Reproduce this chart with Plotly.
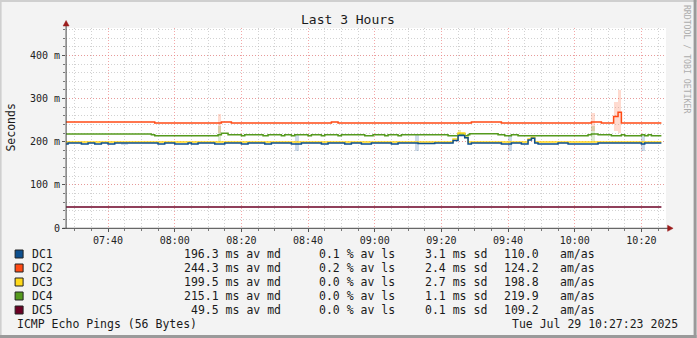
import plotly.graph_objects as go
import pandas as pd

DAY = "2025-07-29 "
T_START = "07:27:23"
T_END = "10:27:23"
DATA_END = "10:26"

# ---- step series: change-point times and values (ms) ----
dc1_t = ["07:27:23", "07:28", "07:32", "07:34", "07:36", "07:38", "07:40", "07:42", "07:55", "07:57",
         "08:00", "08:04", "08:05", "08:07", "08:12", "08:15", "08:20", "08:22", "08:27", "08:29",
         "08:35", "08:38", "08:44", "08:46", "08:51", "08:53", "08:56", "08:59", "09:05", "09:07",
         "09:13", "09:18", "09:23:30", "09:25", "09:27", "09:28", "09:29", "09:38", "09:41", "09:44",
         "09:46", "09:47", "09:48", "09:49", "09:55", "09:58", "10:07", "10:20", "10:21"]
dc1_v = [194.7, 197.0, 194.7, 197.0, 194.7, 197.0, 194.7, 197.0, 194.7, 197.0,
         194.7, 197.0, 194.7, 197.0, 194.7, 197.0, 194.7, 197.0, 194.7, 197.0,
         194.7, 197.0, 194.7, 197.0, 194.7, 197.0, 194.7, 197.0, 194.7, 197.0,
         196.0, 197.0, 203.0, 214.6, 209.0, 194.7, 197.0, 194.7, 197.0, 194.7,
         204.0, 208.0, 197.0, 194.7, 197.0, 194.7, 197.0, 194.7, 197.0]

dc2_t = ["07:27:23", "07:54", "08:14", "08:17", "08:47", "08:49", "09:29", "09:38", "10:05", "10:08",
         "10:11:40", "10:13", "10:14"]
dc2_v = [245.7, 243.3, 245.7, 243.3, 245.7, 243.3, 245.7, 243.3, 245.7, 243.3,
         258.6, 268.4, 243.3]

dc3_t = ["07:27:23", "09:23:30", "09:25", "09:27", "09:28", "09:46", "09:47", "09:48"]
dc3_v = [199.3, 206.3, 220.2, 210.0, 199.3, 206.0, 210.0, 199.3]

dc4_t = ["07:27:23", "07:53", "07:54", "08:13", "08:14", "08:16", "08:20", "08:21", "08:26:30", "08:28",
         "08:32", "08:33", "08:35", "08:36", "08:40", "08:41", "08:44", "08:45", "08:49", "08:50",
         "08:57", "08:59:30", "09:03", "09:04", "09:07", "09:08", "09:22", "09:25", "09:27", "09:28",
         "09:28:30", "09:37", "09:39", "09:41", "09:43", "10:04", "10:05", "10:07", "10:11", "10:14",
         "10:15", "10:20", "10:21", "10:22", "10:23"]
dc4_v = [217.8, 216.2, 213.9, 216.2, 219.3, 216.2, 213.9, 216.2, 213.9, 216.2,
         213.9, 216.2, 213.9, 216.2, 213.9, 216.2, 213.9, 216.2, 213.9, 216.2,
         213.9, 216.2, 213.9, 216.2, 213.9, 216.2, 213.9, 217.8, 213.9, 216.2,
         218.3, 216.2, 213.9, 216.2, 213.9, 216.2, 217.8, 216.2, 213.9, 216.2,
         213.9, 216.2, 213.9, 216.2, 213.9]

dc5_t = ["07:27:23"]
dc5_v = [48.7]

# ---- spread (sd) bands: start, end, low, high ----
dc1_band_start = ["07:44", "08:36", "09:12", "09:13", "09:20", "09:40", "10:20"]
dc1_band_end = ["07:46", "08:37:12", "09:13:12", "09:18", "09:23", "09:41:12", "10:21"]
dc1_band_lo = [193.0, 177.5, 177.5, 194.0, 194.0, 177.5, 177.5]
dc1_band_hi = [197.5, 216.0, 216.0, 197.5, 197.5, 216.0, 216.0]

dc2_band_start = ["08:13", "10:05", "10:11:40", "10:13"]
dc2_band_end = ["08:14", "10:06", "10:13", "10:14"]
dc2_band_lo = [221.0, 225.5, 225.5, 220.0]
dc2_band_hi = [265.0, 266.5, 292.0, 319.0]

dc3_band_start = ["09:25", "09:47"]
dc3_band_end = ["09:26", "09:48"]
dc3_band_lo = [218.0, 209.0]
dc3_band_hi = [226.0, 216.0]

dc4_band_start = ["08:13", "10:05"]
dc4_band_end = ["08:14", "10:06"]
dc4_band_lo = [199.3, 199.3]
dc4_band_hi = [237.0, 237.0]

# ---- legend values ----
names = ["DC1", "DC2", "DC3", "DC4", "DC5"]
av_md = [196.3, 244.3, 199.5, 215.1, 49.5]
av_ls = [0.1, 0.2, 0.0, 0.0, 0.0]
sd_ms = [3.1, 2.4, 2.7, 1.1, 0.1]
am_as = [110.0, 124.2, 198.8, 219.9, 109.2]
colors = ["#0d4f8e", "#ff4a14", "#ffd91a", "#559a1e", "#6b0024"]
band_colors = ["rgba(30,90,160,0.22)", "rgba(255,90,40,0.22)", "rgba(200,190,40,0.32)",
               "rgba(90,160,40,0.2)"]

y_ticks = [0, 100, 200, 300, 400]
y_tick_text = ["0", "100 m", "200 m", "300 m", "400 m"]

W, H = 697, 338
L, R, TOP, B = 66.4, 697 - 666.4, 28, 110
PW, PH = W - L - R, H - TOP - B
MONO = "DejaVu Sans Mono"


def full(s):
    return DAY + s


def px2x(px):
    return (px - L) / PW


def py2y(py):
    return (TOP + PH - py) / PH


fig = go.Figure()

# bands
band_sets = [
    (dc1_band_start, dc1_band_end, dc1_band_lo, dc1_band_hi, band_colors[0]),
    (dc2_band_start, dc2_band_end, dc2_band_lo, dc2_band_hi, band_colors[1]),
    (dc3_band_start, dc3_band_end, dc3_band_lo, dc3_band_hi, band_colors[2]),
    (dc4_band_start, dc4_band_end, dc4_band_lo, dc4_band_hi, band_colors[3]),
]
for st, en, lo, hi, col in band_sets:
    xs = [full(s) for s in st]
    widths = [(pd.Timestamp(full(e)) - pd.Timestamp(full(s))).total_seconds() * 1000 for s, e in zip(st, en)]
    fig.add_trace(go.Bar(x=xs, y=[h - l for l, h in zip(lo, hi)], base=lo, width=widths, offset=0,
                         marker=dict(color=col, line=dict(width=0)), showlegend=False, hoverinfo="skip"))

series = [(dc5_t, dc5_v, colors[4], 1.4), (dc4_t, dc4_v, colors[3], 1.5), (dc2_t, dc2_v, colors[1], 1.5),
          (dc3_t, dc3_v, colors[2], 1.5), (dc1_t, dc1_v, colors[0], 1.5)]
for ts, vs, col, lw in series:
    xs = [full(t) for t in ts] + [full(DATA_END)]
    ys = list(vs) + [vs[-1]]
    fig.add_trace(go.Scatter(x=xs, y=ys, mode="lines", line=dict(color=col, width=lw, shape="hv"),
                             showlegend=False, hoverinfo="skip"))

grid_major = "rgba(240,130,130,0.7)"
grid_minor = "rgba(180,180,180,0.6)"

fig.update_layout(
    width=W, height=H,
    margin=dict(l=L, r=R, t=TOP, b=B, pad=0),
    paper_bgcolor="#f3f3f3", plot_bgcolor="#ffffff",
    barmode="overlay", bargap=0,
    xaxis=dict(type="date", range=[full(T_START), full(T_END)], tick0=full("07:40"), dtick=20 * 60 * 1000,
               tickformat="%H:%M", showgrid=True, gridcolor=grid_major, griddash="1px,2px", gridwidth=1,
               ticks="outside", ticklen=3, tickcolor="#555", zeroline=False, showline=False,
               tickfont=dict(family=MONO, size=10, color="#222"),
               minor=dict(dtick=5 * 60 * 1000, tick0=full("07:40"), showgrid=True, gridcolor=grid_minor,
                          griddash="1px,2px", ticks="outside", ticklen=2, tickcolor="#777")),
    yaxis=dict(range=[0, 463.5], tickvals=y_ticks, ticktext=y_tick_text, showgrid=True,
               gridcolor=grid_major, griddash="1px,2px", ticks="outside", ticklen=3, tickcolor="#555",
               zeroline=False, showline=False, tickfont=dict(family=MONO, size=10, color="#222"),
               minor=dict(dtick=20, showgrid=True, gridcolor=grid_minor, griddash="1px,2px",
                          ticks="outside", ticklen=2, tickcolor="#777")),
    showlegend=False,
)

shapes = []
# outer border
shapes.append(dict(type="rect", xref="paper", yref="paper", x0=px2x(0), x1=px2x(697), y0=py2y(2), y1=py2y(0),
                   line=dict(width=0), fillcolor="#cfcfcf", layer="above"))
shapes.append(dict(type="rect", xref="paper", yref="paper", x0=px2x(0), x1=px2x(2), y0=py2y(338), y1=py2y(0),
                   line=dict(width=0), fillcolor="#cfcfcf", layer="above"))
shapes.append(dict(type="rect", xref="paper", yref="paper", x0=px2x(694), x1=px2x(697), y0=py2y(338), y1=py2y(0),
                   line=dict(width=0), fillcolor="#9a9a9a", layer="above"))
shapes.append(dict(type="rect", xref="paper", yref="paper", x0=px2x(0), x1=px2x(697), y0=py2y(338), y1=py2y(335),
                   line=dict(width=0), fillcolor="#9a9a9a", layer="above"))
# axes with arrows
shapes.append(dict(type="line", xref="paper", yref="paper", x0=px2x(66.5), x1=px2x(66.5), y0=py2y(228.5),
                   y1=py2y(25), line=dict(color="#444", width=1), layer="above"))
shapes.append(dict(type="line", xref="paper", yref="paper", x0=px2x(63), x1=px2x(670), y0=py2y(228.3),
                   y1=py2y(228.3), line=dict(color="#444", width=1), layer="above"))
ax0, ay0 = px2x(63.5), py2y(26)
ax1 = px2x(69.5)
axm, aym = px2x(66.5), py2y(20.5)
shapes.append(dict(type="path", xref="paper", yref="paper",
                   path=f"M {ax0} {ay0} L {ax1} {ay0} L {axm} {aym} Z",
                   fillcolor="#9b1c1c", line=dict(color="#9b1c1c", width=0.5), layer="above"))
bx0, by0, by1 = px2x(668), py2y(225.3), py2y(231.3)
bxm, bym = px2x(673.5), py2y(228.3)
shapes.append(dict(type="path", xref="paper", yref="paper",
                   path=f"M {bx0} {by0} L {bx0} {by1} L {bxm} {bym} Z",
                   fillcolor="#9b1c1c", line=dict(color="#9b1c1c", width=0.5), layer="above"))

annotations = []


def ann(text, px, py, anchor="left", size=11.5, color="#1a1a1a", angle=0, family=MONO):
    annotations.append(dict(text=text, x=px2x(px), y=py2y(py), xref="paper", yref="paper", showarrow=False,
                            xanchor=anchor, yanchor="middle", textangle=angle,
                            font=dict(family=family, size=size, color=color)))


ann("Last 3 Hours", 348, 19, anchor="center", size=13)
ann("Seconds", 11, 128, anchor="center", size=11.5, angle=-90)
ann("RRDTOOL / TOBI OETIKER", 687.5, 59, anchor="center", size=8.2, color="#adadad", angle=90)

row_y = [254, 268, 282, 296, 310]
for i, nm in enumerate(names):
    yy = row_y[i]
    shapes.append(dict(type="rect", xref="paper", yref="paper", x0=px2x(15.5), x1=px2x(23.5),
                       y0=py2y(yy - 4), y1=py2y(yy + 4), fillcolor=colors[i],
                       line=dict(color="#222", width=1), layer="above"))
    ann(nm, 30, yy)
    ann(f"{av_md[i]:.1f} ms av md", 283.8, yy, anchor="right")
    ann(f"{av_ls[i]:.1f} % av ls", 397, yy, anchor="right")
    ann(f"{sd_ms[i]:.1f} ms sd", 489.6, yy, anchor="right")
    ann(f"{am_as[i]:.1f}", 541.3, yy, anchor="right")
    ann("am/as", 597, yy, anchor="right")

ann("ICMP Echo Pings (56 Bytes)", 15.5, 324)
ann("Tue Jul 29 10:27:23 2025", 680.5, 324, anchor="right")

fig.update_layout(shapes=shapes, annotations=annotations)
fig.write_html("out.html")
